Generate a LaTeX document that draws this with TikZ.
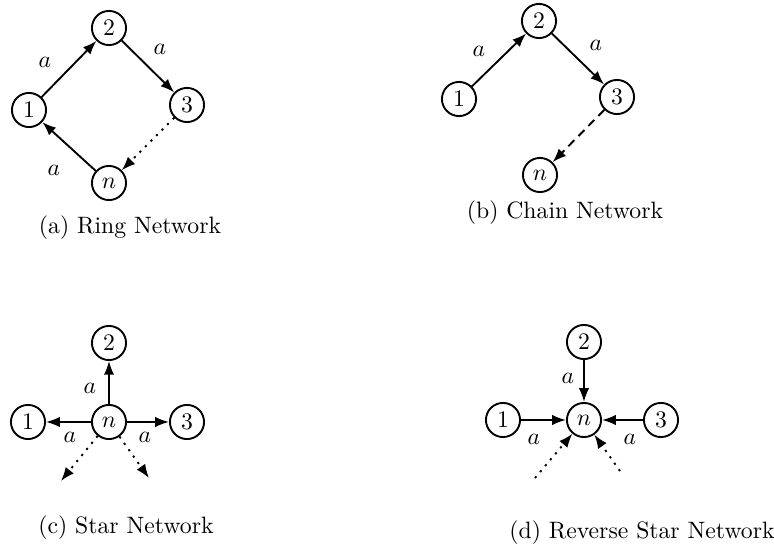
\documentclass[tikz,border=0pt]{standalone}
\usetikzlibrary{positioning, arrows.meta}

\begin{document}
\begin{tikzpicture}[
  x=0.422pt, y=-0.422pt,
  nd/.style={circle, draw, line width=0.8pt, minimum size=14.4pt, inner sep=0pt},
  arr/.style={-{Latex[length=5.8pt, width=4.4pt]}, line width=0.8pt},
  dotarr/.style={arr, dash pattern=on 0.9pt off 2.4pt},
  dasharr/.style={arr, dash pattern=on 3.6pt off 2.4pt},
  lbl/.style={inner sep=0pt}
]
  \useasboundingbox (0,0) rectangle (774,558);

  % --- (a) Ring ---
  \node[nd] (r1) at (29,110)  {1};
  \node[nd] (r2) at (109,28)  {2};
  \node[nd] (r3) at (187,105) {3};
  \node[nd] (rn) at (109,183) {$n$};
  \draw[arr] (r1) -- (r2);
  \draw[arr] (r2) -- (r3);
  \draw[dotarr] (r3) -- (rn);
  \draw[arr] (rn) -- (r1);
  \node[lbl] (ra1) at (45,62)  {$a$};
  \node[lbl] (ra2) at (160,49) {$a$};
  \node[lbl] (ra3) at (54,170) {$a$};
  \node (rcap) at (130,228) {(a) Ring Network};

  % --- (b) Chain ---
  \node[nd] (c1) at (459,99)  {1};
  \node[nd] (c2) at (539,21)  {2};
  \node[nd] (c3) at (617,97)  {3};
  \node[nd] (cn) at (540,175) {$n$};
  \draw[arr] (c1) -- (c2);
  \draw[arr] (c2) -- (c3);
  \draw[dasharr] (c3) -- (cn);
  \node[lbl] (ca1) at (479,51) {$a$};
  \node[lbl] (ca2) at (596,45) {$a$};
  \node (ccap) at (565,213) {(b) Chain Network};

  % --- (c) Star ---
  \node[nd] (s1) at (28,422)  {1};
  \node[nd] (s2) at (109,343) {2};
  \node[nd] (s3) at (187,422) {3};
  \node[nd] (sn) at (109,422) {$n$};
  \coordinate (sd1) at (61,481);
  \coordinate (sd2) at (149,478);
  \draw[arr] (sn) -- (s1);
  \draw[arr] (sn) -- (s2);
  \draw[arr] (sn) -- (s3);
  \draw[dotarr] (sn) -- (sd1);
  \draw[dotarr] (sn) -- (sd2);
  \node[lbl] (sa2) at (90,388)  {$a$};
  \node[lbl] (sa1) at (70,437)  {$a$};
  \node[lbl] (sa3) at (145,437) {$a$};
  \node (scap) at (126,528) {(c) Star Network};

  % --- (d) Reverse star ---
  \node[nd] (v1) at (503,420) {1};
  \node[nd] (v2) at (584,342) {2};
  \node[nd] (v3) at (661,420) {3};
  \node[nd] (vn) at (584,420) {$n$};
  \coordinate (vd1) at (535,478);
  \coordinate (vd2) at (620,471);
  \draw[arr] (v1) -- (vn);
  \draw[arr] (v2) -- (vn);
  \draw[arr] (v3) -- (vn);
  \draw[dotarr] (vd1) -- (vn);
  \draw[dotarr] (vd2) -- (vn);
  \node[lbl] (va2) at (568,378) {$a$};
  \node[lbl] (va1) at (534,439) {$a$};
  \node[lbl] (va3) at (630,439) {$a$};
  \node (vcap) at (642,533) {(d) Reverse Star Network};
\end{tikzpicture}
\end{document}
